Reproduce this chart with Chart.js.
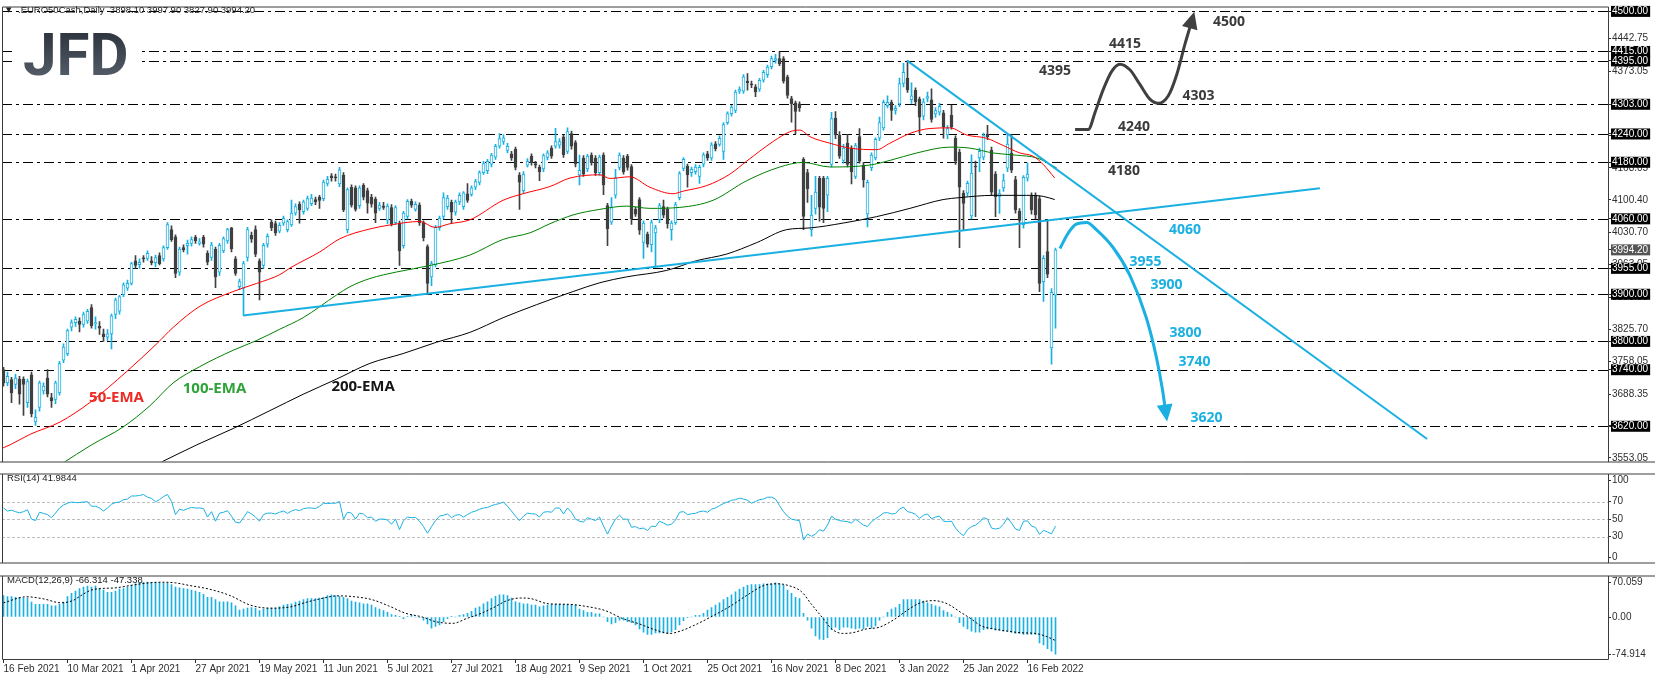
<!DOCTYPE html>
<html>
<head>
<meta charset="utf-8">
<script src="https://cdn.jsdelivr.net/npm/chart.js@4.4.1/dist/chart.umd.min.js"></script>
<style>
  html, body { margin: 0; padding: 0; background: #fff; }
  #wrap { position: relative; width: 1655px; height: 680px; overflow: hidden; background: #fff; }
  canvas { position: absolute; left: 0; }
</style>
</head>
<body>
<div id="wrap">
  <canvas id="priceChart" width="1655" height="468" style="top:0"></canvas>
  <canvas id="rsiChart" width="1655" height="102" style="top:468px"></canvas>
  <canvas id="macdChart" width="1655" height="110" style="top:570px"></canvas>
</div>
<script>
// ============================================================
// DATA
// ============================================================

// one label every 16 bars
const tickDates = ['16 Feb 2021', '10 Mar 2021', '1 Apr 2021', '27 Apr 2021', '19 May 2021', '11 Jun 2021',
  '5 Jul 2021', '27 Jul 2021', '18 Aug 2021', '9 Sep 2021', '1 Oct 2021', '25 Oct 2021', '16 Nov 2021',
  '8 Dec 2021', '3 Jan 2022', '25 Jan 2022', '16 Feb 2022'];

const opens = [3740,3712,3719,3709,3720,3720,3670,3729,3629,3660,3695,3722,3681,3677,3691,3760,3774,3830,3840,3843,
  3836,3843,3872,3837,3832,3816,3809,3816,3857,3864,3899,3913,3923,3971,3963,3976,3976,3971,3967,3982,
  3975,3999,4037,4022,3947,3999,4003,4008,4021,4008,4021,3987,3978,3996,3947,3992,4013,4041,3975,3916,
  3913,3978,4025,4037,3971,3961,4006,4053,4050,4034,
  4051,4037,4047,4072,4091,4075,4082,4092,4101,4106,4103,4135,4151,4149,4134,4153,4037,4127,4126,4088,
  4131,4120,4106,4102,4082,4087,4057,4084,4052,4051,4003,4065,4097,4080,4089,4052,4001,3937,3963,4041,
  4065,4086,4095,4074,4096,4086,4113,4112,4127,4137,4158,4162,4176,4191,4214,4224,4205,4198,4208,4153,
  4120,4174,4193,4177,4169,4166,4190,
  4210,4214,4216,4234,4203,4241,4222,4153,4189,4166,4195,4189,4158,4195,4088,4053,4110,4169,4189,4193,
  4171,4080,4101,4010,4027,4005,4030,4058,4086,4080,4037,4052,4105,4167,4172,4158,4160,4150,4176,4198,
  4189,4219,4218,4203,4264,4283,4290,4331,4331,4352,4346,4340,4335,4354,4366,4383,4396,4400,4400,4361,
  4315,4306,4304,4186,4158,4037,4082,4146,4146,4110,
  4175.5,4273.7,4237.8,4183.8,4220.5,4210,4150,4234.3,4173.4,4070.4,4168.6,4189.4,4230.9,4253,4300,4307,
  4289.7,4303.5,4347.1,4358.8,4312.5,4332.5,4314,4277.9,4315.3,4312.5,4282.7,4286,4284.8,4237.8,4279.3,
  4230.9,4201.8,4114.6,4114.6,4066.2,4171.4,4189.4,4190.7,4239.9,4205.3,4154.8,4107.7,4125.7,4167.2,
  4199.7,4143,4076.6,4047.5,4146.5,4108.4,4109.8,4102.9,3926.5,3990.8,3786,3898.1];

const highs = [3745,3735,3724,3730,3726,3725,3720,3735,3655,3716,3712,3740,3690,3716,3758,3795,3826,3846,3852,3850,
  3862,3868,3878,3852,3842,3826,3825,3858,3892,3898,3924,3930,3968,3982,3975,3982,3992,3980,3983,3988,
  4003,4052,4045,4026,4000,4005,4015,4022,4025,4018,4025,3992,4010,4000,4008,4022,4040,4042,3980,3932,
  3970,4042,4032,4045,3975,4008,4028,4058,4055,4052,
  4066,4058,4100,4092,4096,4100,4108,4112,4106,4110,4142,4150,4156,4155,4169,4158,4126,4132,4130,4130,
  4135,4125,4112,4106,4095,4095,4092,4090,4088,4055,4076,4101,4102,4096,4094,4056,4005,3970,4046,4066,
  4115,4110,4100,4100,4115,4118,4135,4130,4144,4162,4182,4186,4199,4218,4241,4238,4220,4203,4212,4158,
  4160,4188,4198,4182,4174,4198,4205,
  4215,4252,4230,4238,4253,4246,4226,4195,4194,4197,4200,4194,4195,4200,4093,4105,4165,4200,4194,4197,
  4175,4085,4105,4056,4032,4058,4046,4093,4100,4085,4056,4095,4160,4190,4176,4170,4175,4174,4200,4203,
  4222,4224,4236,4264,4287,4301,4333,4340,4366,4368,4352,4345,4358,4375,4386,4405,4409,4414,4404,4365,
  4320,4310,4308,4190,4165,4110,4150,4150,4150,4150,
  4286,4287.6,4245,4218,4239,4215,4220,4251.6,4180,4142,4200,4232,4275.8,4312,4320.8,4312,4300,4358.8,
  4390,4395.5,4348.5,4338,4318,4315,4329,4336,4296,4305,4290,4258,4301.4,4236,4208,4120,4140,4196,4182.4,
  4210,4242,4258.5,4212,4160,4122,4154.8,4239,4239,4150,4082,4152,4179,4115,4115,4108,3982,4054.5,3912,3997.9];

const lows = [3705,3706,3670,3700,3667,3643,3660,3640,3622,3652,3688,3682,3660,3668,3686,3755,3770,3822,3832,3820,
  3830,3838,3828,3826,3815,3800,3802,3784,3848,3858,3895,3908,3920,3955,3955,3968,3972,3962,3958,3962,
  3970,3995,4012,3935,3940,3990,3985,4002,4008,4004,4000,3962,3972,3914,3940,3988,4008,3990,3940,3910,
  3855,3970,4010,3980,3888,3955,4000,4035,4025,4030,
  4046,4032,4044,4068,4051,4070,4078,4088,4090,4082,4098,4130,4140,4140,4128,4075,4030,4085,4076,4082,
  4100,4072,4085,4052,4078,4080,4050,4045,4048,3961,3998,4060,4084,4076,4046,4013,3902,3918,3958,4036,
  4060,4080,4052,4068,4090,4080,4095,4108,4122,4132,4154,4156,4170,4186,4210,4218,4200,4184,4164,4080,
  4115,4170,4174,4168,4141,4160,4185,
  4188,4210,4210,4190,4198,4208,4170,4132,4150,4160,4174,4152,4152,4111,4003,4048,4104,4164,4155,4163,
  4048,4065,4027,3976,4000,3990,3959,4052,4062,4040,4015,4048,4100,4162,4127,4150,4155,4135,4170,4184,
  4184,4204,4214,4186,4260,4278,4285,4326,4326,4333,4338,4319,4330,4350,4360,4378,4390,4385,4348,4316,
  4265,4240,4288,4037,4095,4023,4070,4055,4052,4075,
  4170,4230,4188,4178,4170,4134,4145,4178,4127,4042.7,4162,4185,4226,4248,4295,4268.9,4282,4298,4340,
  4328,4305,4300,4241,4270,4308,4265,4275,4280,4230.9,4230,4250,4175.5,3999,4035.8,4108,4060,4064.8,4160,
  4185,4228,4110,4064.8,4071.7,4118,4160,4158,4072,3999,4040,4140,4070,4060,3905.7,3885,3935,3751.5,3827.9];

const closes = [3712,3726,3691,3722,3688,3709,3715,3646,3639,3712,3705,3688,3674,3712,3753,3788,3823,3840,3847,3836,
  3857,3864,3833,3840,3828,3810,3816,3854,3888,3895,3920,3923,3965,3961,3968,3975,3987,3967,3978,3965,
  3999,4048,4016,3944,3996,3994,4008,4016,4013,4011,4006,3968,4005,3937,4004,4018,4037,3996,3944,3927,
  3965,4037,4017,3985,3947,4004,4023,4041,4030,4046,
  4061,4054,4072,4086,4079,4096,4103,4104,4096,4099,4138,4144,4147,4147,4164,4079,4122,4089,4080,4126,
  4106,4093,4091,4072,4089,4084,4087,4050,4084,3992,4072,4097,4089,4091,4052,4020,3923,3965,4042,4061,
  4105,4104,4074,4096,4110,4115,4099,4126,4139,4158,4177,4182,4195,4214,4230,4232,4214,4189,4169,4138,
  4155,4182,4179,4174,4160,4194,4200,
  4193,4224,4224,4196,4245,4214,4177,4163,4155,4193,4179,4158,4191,4132,4039,4084,4147,4195,4160,4169,
  4060,4070,4036,4051,4006,4052,4041,4088,4068,4050,4051,4090,4156,4186,4153,4165,4170,4169,4196,4189,
  4217,4209,4231,4260,4283,4297,4329,4335,4361,4349,4344,4329,4354,4371,4382,4400,4400,4389,4352,4322,
  4304,4288,4295,4065,4124,4068,4117,4085,4082,4146,
  4272.4,4237.8,4192.8,4210,4175.5,4160.3,4215.6,4182.4,4142.3,4137.5,4195,4228.8,4264,4307,4307,4289.7,
  4294.5,4347.1,4370.6,4333.2,4320.8,4308.3,4275.8,4308.3,4319.4,4271,4289.7,4298.7,4255.1,4251.6,4255.1,
  4182.4,4127,4092.5,4135.4,4156.9,4170,4203.2,4236.4,4234.3,4116.7,4106.3,4113.3,4140.9,4218.4,4163.1,
  4078.7,4056.5,4147.9,4154.8,4078.7,4068.3,3923,3976.3,3942.4,3904.3,3994.2];

// moving averages, sampled along the drawn lines: [bar, price]
const ema50 = [[-1,3571],[1.6,3580.5],[6.6,3602.7],[14.1,3628.9],[21.6,3670.4],[30.8,3736.2],[38.3,3794.9],
  [42.4,3829.6],[49.1,3874.6],[57.4,3905.8],[63.3,3923],[69.1,3941.7],[71.6,3955.6],[79.1,3990],[84.1,4017.8],
  [91.6,4038.6],[96.6,4046.9],[104.1,4054.4],[107.8,4041.9],[111.6,4049.6],[116.6,4057.9],[124.9,4099.4],
  [129.9,4113.3],[136.6,4128.5],[141.6,4146.5],[149.1,4153.4],[151.6,4145.7],[156.6,4149.2],[161.6,4127],
  [167.4,4113.3],[169.9,4118.7],[175.8,4130.5],[181.6,4154.8],[185.8,4182.4],[192.4,4224],[196.6,4244.7],
  [199.1,4248.2],[201.6,4234.3],[206.6,4220.4],[211.6,4210],[218.3,4206.7],[221.6,4220.4],[226.6,4241.2],
  [231.6,4251.6],[236.6,4253],[240.8,4237.9],[245.8,4230.8],[249.9,4215.6],[254.1,4199.7],[257.4,4192.8],
  [259.9,4175.6],[262.8,4146.5]];
const ema100 = [[14.5,3540],[22,3580.5],[29.9,3618.5],[36.6,3663.5],[42.4,3711.9],[49.1,3746.6],[57.4,3781.2],
  [63.3,3802],[69.1,3826],[74.9,3850.3],[83.3,3898.7],[86.6,3916.1],[91.6,3933.4],[98.3,3947.3],[106.6,3961],
  [116.6,3983.2],[124.9,4016.4],[131.6,4030.3],[136.6,4049.6],[142.4,4068.3],[149.1,4080.1],[155.8,4087],
  [161.6,4082.2],[169.1,4084.3],[177.4,4099.4],[185.8,4140.9],[194.1,4170],[199.9,4179.7],[206.6,4170],
  [216.6,4174.1],[221.6,4183.9],[228.3,4199.7],[236.6,4212.1],[241.6,4210],[247.4,4199.7],[253.3,4194.9],
  [258.3,4189.3],[263.3,4167.9]];
const ema200 = [[38.5,3540],[48.3,3580.5],[57.4,3615.2],[66.6,3653.2],[74.9,3687.8],[83.3,3720.2],[91.6,3753.4],
  [99.9,3774.2],[108.3,3798.4],[116.6,3819.2],[124.9,3850.3],[133.3,3878],[142.4,3905.8],[149.1,3924.5],
  [155.8,3936.9],[165.8,3950.6],[173.3,3971.3],[180.8,3985.3],[188.3,4009.5],[195.8,4037.1],[201.6,4040.7],
  [209.9,4051],[218.3,4064.7],[226.6,4082.2],[234.9,4100.9],[239.1,4105],[247.4,4109.8],[255.8,4109.8],
  [259.9,4107.7],[262.8,4100.9]];

const levels = [4500, 4415, 4395, 4303, 4240, 4180, 4060, 3955, 3900, 3800, 3740, 3620];
const priceAxisValues = [4442.75, 4373.05, 4303.35, 4235.70, 4168.05, 4100.40, 4030.70, 3963.05,
  3893.35, 3825.70, 3758.05, 3688.35, 3620.70, 3553.05];
const lastClose = 3994.20;

// drawn trendlines and scenario paths: [bar, price]
const supportLine = [[59.9, 3855], [329.1, 4125]];
const resistanceLine = [[225.9, 4395.6], [355.9, 3593]];
const bearPath = [[264.1,3997],[266.1,4028.8],[268.2,4048.6],[270.8,4052.3],[273.2,4037.1],[277.4,3999.2],
  [281.6,3940.2],[285.7,3850.3],[288.2,3767.3],[289.8,3694.7],[290.3,3665]];
const bearTip = [290.9, 3630.3];
const bullPath = [[267.9,4249.5],[271.2,4249.5],[272.9,4286.2],[274.95,4334.6],[277.05,4372.8],[279.1,4387.9],
  [281.6,4376.1],[284.1,4345],[286.6,4313.8],[288.7,4304.9],[291.2,4320.9],[293.3,4365.7],[295.4,4431.5],
  [296.6,4466.2]];
const bullTip = [297.7, 4499.4];

// scenario labels: [text, bar, price]
const bullLabels = [['4500',306.4,4477.2],['4415',280.4,4431.5],['4395',262.9,4373.4],['4303',298.75,4321.5],
  ['4240',282.6,4255],['4180',280.1,4161.1]];
const bearLabels = [['4060',295.4,4037.1],['3955',285.5,3968.6],['3900',290.75,3918.8],['3800',295.5,3817.1],
  ['3740',297.75,3756.9],['3620',300.75,3636.5]];
const emaLabels = [['50-EMA',28.25,3680.2],['100-EMA',52.75,3698.8],['200-EMA',89.9,3703]];

const rsi = [62.8,59.3,60.3,58.6,57.2,58.6,60.7,50,48.3,57.9,56.6,55.2,51.7,56.9,62.8,66.2,68.3,69.7,69,69,
  69.7,70,64.8,64.8,62.8,59.3,62.8,67.2,69,69.7,72.4,73.1,76.6,76.6,77.2,78.3,75.2,73.8,70,72.4,
  75.9,78.3,70.3,55.2,61.4,60,62.1,63.4,62.8,62.8,62.1,52.4,58.6,47.6,56.9,57.9,59.7,53.4,46.6,45.5,
  51.7,58.6,55.9,52.4,47.6,55.2,56.9,56.9,55.9,57.9,59.3,56.6,59.3,61,59.7,62.1,62.8,62.8,62.1,64.8,
  68.3,67.9,68.3,68.3,70.3,50,57.9,56.9,50,56.9,55.9,51.7,52.4,47.6,50,50,49,44.1,50,37.9,
  48.3,52.4,51.7,52,47.6,41.4,33.8,41.4,48.3,53.4,54.5,55.9,51.7,54.5,55.2,52.4,55.2,57.9,59.3,61.4,
  62.8,63.4,65.5,66.9,67.9,69.7,64.8,59.3,53.4,48.3,53.4,56.9,
  56.2,55.9,52.4,57.9,58.6,57.9,62.8,62.8,55.9,62.8,57.9,50,47.6,46.6,51.7,50,48.3,52.4,42.1,32.8,
  42.1,50,54.5,50,50,40.7,41.4,39,39.7,36.9,42.1,41.4,47.6,45.5,43.1,44.1,49,57.9,58.6,55.2,
  56.2,56.6,58.6,59.3,57.9,61.4,62.8,65.5,67.9,69.7,71.7,72.4,74.1,73.1,71.7,68.3,70.3,72.4,73.1,75.2,
  75.2,73.1,65.5,58.6,53.4,50,49,48.3,25.9,32.8,30.3,32.8,37.9,36.2,43.1,53.4,50,48.3,47.6,47.2,
  45.5,50,46.6,
  43.1,41.5,47,50.5,53.4,57,57.5,55.9,56.5,61.5,63.8,58.6,57.6,55.5,51,54.5,55.9,50.5,52.4,53.4,
  47.6,47.2,47.6,39.7,34.5,31,37.9,41.4,43.1,46.6,51.7,50,39.7,38.6,39.7,44.1,51.7,45.5,38.6,37,
  47.6,48,42.1,40.5,32.4,37.2,35.2,33.1,41.98];
const rsiLevels = [70, 50, 30];
const rsiAxisValues = [100, 70, 50, 30, 0];

const macd = [43,41,41,39.5,39.5,38,38,30,25.5,25.5,25.5,25.5,22.3,22.3,25.5,30,41,47.7,52,57.3,
  60.4,62.4,60.4,62.4,57.3,54,49.6,49.6,52,56,57.3,60.4,63.6,66.8,69,70,70.059,70,69.5,68.7,
  68,68,65,
  60.4,58.5,57.3,56,54,52,49.6,45.8,39.5,39.5,35,30.5,30.5,30.5,28.6,22.3,14,16,17.8,19,
  17.8,12.7,16,17.8,17.8,17.8,20.4,24.2,25.5,26.7,30,31.8,35,37,37,37,38.2,39.5,43.3,44.5,
  43.3,41.4,39.5,37,31.8,
  30,
  28.6,26.7,26.7,24.2,19,16,12.7,9.5,5,3.2,1.3,-3.2,1.3,5,0,-1.3,-6.4,-14,-22.3,-19,
  -16,-9.5,-3.2,1.3,0,3.2,5,7.6,11.5,17.8,20.4,26.7,30.5,37,41.4,44.5,44.5,43.3,38.2,30.5,
  28.6,26.7,26.7,
  24.2,24.2,20.4,22.3,24.2,25.5,25.5,25.5,25.5,25.5,25.5,24.2,16,12.7,9.5,9.5,6.4,6.4,0,-9.5,
  -14,-11.5,-6.4,-6.4,-9.5,-11.5,-16,-24.2,-30.5,-35,-35,-31.8,-31.8,-31.8,-33,
  -29.5,
  -25.5,-16,-7.6,-1.3,0,3.2,3.2,7.6,14,19,24.2,28.6,35,39.5,44.5,50.9,56,60.4,63.6,65,
  65,65,66.8,66.8,66.8,68.7,66.8,63.6,54,47.7,39.5,37,7.6,-6.4,-22.3,-38.2,-44.5,-45.8,-41.4,-25.5,
  -20.4,-25.5,-20.4,-20.4,-22.3,-24.2,-22.3,-24.2,-19,-22.3,-17.8,-6.4,0,9.5,16,19,25.5,35,35,35,
  35,35,31.8,28.6,25.5,22.3,20.4,12.7,9.5,
  5,
  0,-11.5,-19,-24.2,-28.6,-30.5,-30.5,-25.5,-24.2,-24.2,-26.7,-26.7,-28.6,-28.6,-30.5,-33,
  -33,-35,-35,-35,-35,-52.2,-56,-63.6,-68.7,-74.914];
// signal line sampled along the dotted curve: [bar, value]
const macdSignal = [[0,28.6],[5.8,40.7],[10.1,36.3],[14.3,28.6],[17.3,33],[19.4,43.3],[21.9,54],[24.4,57.3],
  [27.8,58.5],[32.9,65],[36.3,68.7],[39.7,70],[43,68.7],[46.4,63.6],[51.5,56],[56.6,43.3],[61.6,24.2],
  [66.7,17.8],[71.8,20.4],[75.2,28.6],[79.4,37],[83.6,42.6],[87.8,40.7],[92.1,35],[96.3,22.3],[100.5,7.6],
  [104.7,0],[108.1,-9.5],[112.4,-12.7],[115.7,-3.2],[119.1,6.4],[122.5,19],[125.9,33],[129.3,38.2],
  [131.9,36.9],[136.2,26.7],[141.2,25.5],[146.3,20.4],[150.5,12.7],[154.8,-3.2],[159,-14],[163.2,-26.7],
  [166.6,-33],[169.1,-28.6],[173.4,-14],[176.8,0],[181.8,22.3],[186,44.5],[190.2,63.6],[193.6,66.8],
  [196.1,63.6],[199.5,50.9],[202,25.5],[204.6,0],[207.1,-24.2],[209.7,-33],[212.2,-31.8],[215.6,-24.2],
  [219,-20.4],[222.4,-6.4],[225.8,12.7],[229.2,28.6],[232.5,33],[235.9,26.7],[239.3,9.5],[241.8,-3.2],
  [244.4,-17.8],[247.7,-24.2],[251.1,-28.6],[254.5,-31.8],[257.9,-33],[260.4,-38.2],[263,-47.338]];
const macdAxisValues = [70.059, 0, -74.914];

// ============================================================
// STYLE / LAYOUT
// ============================================================

const CYAN = '#1ab0e2';
const DARK = '#404040';
const FRAME = '#3c3c3c';
const TEXT = '#2e2e2e';
const AXIS_FAMILY = '"Liberation Sans", Arial, sans-serif';
const AXIS_FONT = { family: AXIS_FAMILY, size: 10, lineHeight: 1.1 };
const LABEL_FAMILY = '"Open Sans", "Liberation Sans", sans-serif';

// bars sit 4px apart, first bar at x = 3.5
const X_MIN = -0.375, X_MAX = 401.125;

const idx = closes.map((_, i) => i);
const bull = idx.map(i => closes[i] >= opens[i]);
const toXY = pts => pts.map(([x, y]) => ({ x, y }));
const levelSet = new Set(levels);

function hiddenX() {
  return { type: 'linear', min: X_MIN, max: X_MAX, offset: false, display: false, grid: { offset: false } };
}

function rightAxis(min, max, values, labelFn, extra = {}) {
  return Object.assign({
    type: 'linear', position: 'right', min, max,
    afterFit: s => { s.width = 47; },
    afterBuildTicks: s => { s.ticks = values.map(v => ({ value: v })); },
    grid: { display: true, drawOnChartArea: false, drawTicks: true, tickLength: 3, color: TEXT },
    border: { display: false },
    ticks: { autoSkip: false, padding: 1, font: AXIS_FONT, color: TEXT, callback: labelFn }
  }, extra);
}

function baseOptions(yScale, padBottom) {
  return {
    responsive: false, animation: false, events: [],
    layout: { padding: { left: 2, top: 2, right: 0, bottom: padBottom } },
    plugins: { legend: { display: false }, tooltip: { enabled: false } },
    scales: { x: hiddenX(), y: yScale }
  };
}

function strokeLines(ctx, segs) {
  ctx.save();
  ctx.strokeStyle = FRAME; ctx.lineWidth = 1;
  ctx.beginPath();
  segs.forEach(([x1, y1, x2, y2]) => { ctx.moveTo(x1, y1); ctx.lineTo(x2, y2); });
  ctx.stroke();
  ctx.restore();
}

function drawArrowHead(ctx, xs, ys, from, tip, len, half, color) {
  const fx = xs.getPixelForValue(from[0]), fy = ys.getPixelForValue(from[1]);
  const tx = xs.getPixelForValue(tip[0]), ty = ys.getPixelForValue(tip[1]);
  const a = Math.atan2(ty - fy, tx - fx);
  const bx = tx - len * Math.cos(a), by = ty - len * Math.sin(a);
  ctx.fillStyle = color;
  ctx.beginPath();
  ctx.moveTo(tx, ty);
  ctx.lineTo(bx + half * Math.sin(a), by - half * Math.cos(a));
  ctx.lineTo(bx - half * Math.sin(a), by + half * Math.cos(a));
  ctx.closePath();
  ctx.fill();
}

function drawTitle(ctx, text, x) {
  ctx.save();
  ctx.fillStyle = '#202020';
  ctx.font = '9.5px ' + AXIS_FAMILY;
  ctx.textBaseline = 'middle';
  ctx.fillText(text, x, 10);
  ctx.restore();
}

// ============================================================
// PRICE PANE
// ============================================================

const pricePlugin = {
  id: 'pricePane',
  beforeDatasetsDraw(chart) {
    const { ctx, chartArea: a, scales: { y } } = chart;
    ctx.save();
    // horizontal dash-dot levels
    ctx.strokeStyle = '#000'; ctx.lineWidth = 1; ctx.setLineDash([10, 4, 3, 4]);
    levels.forEach(v => {
      const py = Math.round(y.getPixelForValue(v)) + 0.5;
      ctx.beginPath(); ctx.moveTo(a.left, py); ctx.lineTo(a.right, py); ctx.stroke();
    });
    ctx.setLineDash([]);
    // logo
    ctx.fillStyle = '#fff';
    ctx.fillRect(12, 26, 126, 52);
    const g = ctx.createLinearGradient(0, 30, 0, 76);
    g.addColorStop(0, '#2c333d'); g.addColorStop(1, '#525b66');
    ctx.fillStyle = g;
    ctx.font = '700 60px Roboto, "Liberation Sans", sans-serif';
    ctx.textBaseline = 'alphabetic';
    ctx.fillText('JFD', 23, 75);
    ctx.restore();
  },
  afterDatasetsDraw(chart) {
    const { ctx, scales: { x, y } } = chart;
    ctx.save();
    drawArrowHead(ctx, x, y, bearPath[bearPath.length - 1], bearTip, 17, 8, CYAN);
    drawArrowHead(ctx, x, y, bullPath[bullPath.length - 1], bullTip, 17, 8, DARK);
    ctx.textAlign = 'center'; ctx.textBaseline = 'middle';
    ctx.font = '700 14px ' + LABEL_FAMILY;
    ctx.fillStyle = '#3a3a3a';
    bullLabels.forEach(([t, bx, p]) => ctx.fillText(t, x.getPixelForValue(bx), y.getPixelForValue(p)));
    ctx.fillStyle = CYAN;
    bearLabels.forEach(([t, bx, p]) => ctx.fillText(t, x.getPixelForValue(bx), y.getPixelForValue(p)));
    ctx.font = '700 15px ' + LABEL_FAMILY;
    const emaColors = ['#ee2a24', '#2ea33a', '#151515'];
    emaLabels.forEach(([t, bx, p], k) => {
      ctx.fillStyle = emaColors[k];
      ctx.fillText(t, x.getPixelForValue(bx), y.getPixelForValue(p));
    });
    ctx.restore();
  },
  afterDraw(chart) {
    const { ctx, chartArea: a, width } = chart;
    strokeLines(ctx, [
      [a.left + 0.5, a.top + 0.5, a.right + 0.5, a.top + 0.5],
      [a.left + 0.5, a.top + 0.5, a.left + 0.5, a.bottom + 0.5],
      [a.right + 0.5, a.top + 0.5, a.right + 0.5, a.bottom + 0.5],
      [0, a.bottom + 0.5, width, a.bottom + 0.5]
    ]);
    ctx.save();
    ctx.fillStyle = '#202020';
    ctx.font = '7px "DejaVu Sans", sans-serif';
    ctx.textBaseline = 'middle';
    ctx.fillText('\u25BC', 6, 10);
    ctx.restore();
    drawTitle(ctx, '.EURO50Cash,Daily  3898.10 3997.90 3827.90 3994.20', 18);
  }
};

const priceTickValues = [...priceAxisValues, ...levels, lastClose];
const priceY = rightAxis(3545.28, 4510.38, priceTickValues, v => Number(v).toFixed(2));
priceY.ticks.showLabelBackdrop = ctx => levelSet.has(ctx.tick.value) || ctx.tick.value === lastClose;
priceY.ticks.backdropColor = ctx => ctx.tick.value === lastClose ? '#555555' : '#000000';
priceY.ticks.backdropPadding = { left: 1, right: 2, top: 0, bottom: 0 };
priceY.ticks.color = ctx => (levelSet.has(ctx.tick.value) || ctx.tick.value === lastClose) ? '#ffffff' : TEXT;

new Chart(document.getElementById('priceChart'), {
  type: 'bar',
  data: {
    datasets: [
      { type: 'line', data: toXY(bullPath), borderColor: DARK, borderWidth: 3, pointRadius: 0,
        cubicInterpolationMode: 'monotone', order: 1 },
      { type: 'line', data: toXY(bearPath), borderColor: CYAN, borderWidth: 3, pointRadius: 0,
        cubicInterpolationMode: 'monotone', order: 1 },
      { type: 'line', data: toXY(supportLine), borderColor: CYAN, borderWidth: 2, pointRadius: 0, order: 2 },
      { type: 'line', data: toXY(resistanceLine), borderColor: CYAN, borderWidth: 2, pointRadius: 0, order: 2 },
      { type: 'line', data: toXY(ema50), borderColor: '#ff0000', borderWidth: 1, pointRadius: 0,
        cubicInterpolationMode: 'monotone', order: 3 },
      { type: 'line', data: toXY(ema100), borderColor: '#008000', borderWidth: 1, pointRadius: 0,
        cubicInterpolationMode: 'monotone', order: 3 },
      { type: 'line', data: toXY(ema200), borderColor: '#000000', borderWidth: 1, pointRadius: 0,
        cubicInterpolationMode: 'monotone', order: 3 },
      // candle bodies
      { data: idx.map(i => ({ x: i, y: [opens[i], closes[i]] })),
        backgroundColor: idx.map(i => bull[i] ? '#ffffff' : DARK),
        borderColor: idx.map(i => bull[i] ? CYAN : DARK),
        borderWidth: 1, borderSkipped: false, barThickness: 3, minBarLength: 1, grouped: false, order: 4 },
      // candle wicks
      { data: idx.map(i => ({ x: i, y: [lows[i], highs[i]] })),
        backgroundColor: idx.map(i => bull[i] ? CYAN : DARK),
        borderWidth: 0, barThickness: 1, grouped: false, order: 5 }
    ]
  },
  options: baseOptions(priceY, 1),
  plugins: [pricePlugin]
});

// ============================================================
// RSI PANE
// ============================================================

const rsiPlugin = {
  id: 'rsiPane',
  beforeDatasetsDraw(chart) {
    const { ctx, chartArea: a, scales: { y } } = chart;
    ctx.save();
    ctx.strokeStyle = '#bdbdbd'; ctx.lineWidth = 1; ctx.setLineDash([3, 2]);
    rsiLevels.forEach(v => {
      const py = Math.round(y.getPixelForValue(v)) + 0.5;
      ctx.beginPath(); ctx.moveTo(a.left, py); ctx.lineTo(a.right, py); ctx.stroke();
    });
    ctx.restore();
  },
  afterDraw(chart) {
    const { ctx, chartArea: a, width } = chart;
    strokeLines(ctx, [
      [0, a.top - 0.5, width, a.top - 0.5],
      [0, a.bottom - 0.5, width, a.bottom - 0.5],
      [a.left + 0.5, a.top - 0.5, a.left + 0.5, a.bottom - 0.5],
      [a.right + 0.5, a.top - 0.5, a.right + 0.5, a.bottom - 0.5]
    ]);
    drawTitle(ctx, 'RSI(14) 41.9844', 7);
  }
};

const rsiY = rightAxis(-1.0, 101.3, rsiAxisValues, v => String(v), {
  afterBuildTicks: s => {
    s.ticks = rsiAxisValues.map(v => ({ value: v }));
    // keep the end labels inside the pane, as the terminal does
    s.getPixelForTick = function (i) {
      const p = this.getPixelForValue(this.ticks[i].value);
      return Math.min(Math.max(p, this.top + 6), this.bottom - 6);
    };
  }
});

new Chart(document.getElementById('rsiChart'), {
  type: 'line',
  data: {
    datasets: [{ data: idx.map(i => ({ x: i, y: rsi[i] })), borderColor: CYAN, borderWidth: 1, pointRadius: 0 }]
  },
  options: baseOptions(rsiY, 1),
  plugins: [rsiPlugin]
});

// ============================================================
// MACD PANE (+ date axis)
// ============================================================

const macdPlugin = {
  id: 'macdPane',
  afterDraw(chart) {
    const { ctx, chartArea: a, width } = chart;
    strokeLines(ctx, [
      [0, a.top - 0.5, width, a.top - 0.5],
      [a.left + 0.5, a.bottom - 0.5, a.right + 0.5, a.bottom - 0.5],
      [a.left + 0.5, a.top - 0.5, a.left + 0.5, a.bottom - 0.5],
      [a.right + 0.5, a.top - 0.5, a.right + 0.5, a.bottom - 0.5]
    ]);
    drawTitle(ctx, 'MACD(12,26,9) -66.314 -47.338', 7);
  }
};

const macdOptions = baseOptions(
  rightAxis(-86.5, 81.5, macdAxisValues, v => (v === 0 ? '0.00' : String(v))), 0);
macdOptions.scales.x = {
  type: 'linear', min: X_MIN, max: X_MAX, offset: false, display: true, position: 'bottom',
  afterFit: s => { s.height = 20; },
  afterBuildTicks: s => { s.ticks = tickDates.map((_, k) => ({ value: k * 16 })); },
  grid: { display: true, offset: false, drawOnChartArea: false, drawTicks: true, tickLength: 3, color: TEXT },
  border: { display: false },
  ticks: { autoSkip: false, maxRotation: 0, align: 'start', padding: 1, font: AXIS_FONT, color: TEXT,
    callback: v => tickDates[Math.round(v / 16)] }
};

new Chart(document.getElementById('macdChart'), {
  type: 'bar',
  data: {
    datasets: [
      { type: 'line', data: toXY(macdSignal), borderColor: '#000', borderWidth: 1, borderDash: [2, 2],
        pointRadius: 0, cubicInterpolationMode: 'monotone', order: 1 },
      { data: idx.map(i => ({ x: i, y: macd[i] })), backgroundColor: CYAN, borderWidth: 0,
        barThickness: 1, grouped: false, order: 2 }
    ]
  },
  options: macdOptions,
  plugins: [macdPlugin]
});
</script>
</body>
</html>
